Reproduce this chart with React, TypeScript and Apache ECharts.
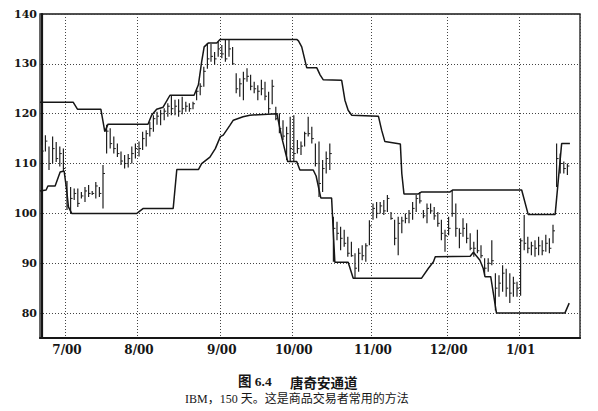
import React, { useEffect, useRef } from "react";
import * as echarts from "echarts";

// Trading days (2000-06-22 .. 2001-01-25)
const june = [22, 23, 26, 27, 28, 29, 30];
const july = [3, 5, 6, 7, 10, 11, 12, 13, 14, 17, 18, 19, 20, 21, 24, 25, 26, 27, 28, 31];
const aug = [1, 2, 3, 4, 7, 8, 9, 10, 11, 14, 15, 16, 17, 18, 21, 22, 23, 24, 25, 28, 29, 30, 31];
const sep = [1, 5, 6, 7, 8, 11, 12, 13, 14, 15, 18, 19, 20, 21, 22, 25, 26, 27, 28, 29];
const oct = [2, 3, 4, 5, 6, 9, 10, 11, 12, 13, 16, 17, 18, 19, 20, 23, 24, 25, 26, 27, 30, 31];
const nov = [1, 2, 3, 6, 7, 8, 9, 10, 13, 14, 15, 16, 17, 20, 21, 22, 24, 27, 28, 29, 30];
const dec = [1, 4, 5, 6, 7, 8, 11, 12, 13, 14, 15, 18, 19, 20, 21, 22, 26, 27, 28, 29];
const jan = [2, 3, 4, 5, 8, 9, 10, 11, 12, 16, 17, 18, 19, 22, 23, 24, 25];

const monthTickLabels = ["7/00", "8/00", "9/00", "10/00", "11/00", "12/00", "1/01"];

const high = [
  113.7, 115.7, 113.4, 115.4, 114.3, 113.4, 113.0, 106.5, 105.3, 105.0,
  105.0, 104.3, 105.3, 105.7, 104.5, 106.3, 105.3, 109.7, 117.8, 117.1,
  115.4, 114.0, 112.4, 111.7, 111.9, 113.4, 114.0, 114.4, 116.4, 116.7,
  118.4, 119.7, 120.4, 120.8, 121.1, 122.1, 123.6, 122.8, 122.9, 123.4,
  122.4, 122.1, 122.4, 125.1, 126.1, 129.4, 134.2, 134.0, 132.4, 134.4,
  133.8, 134.8, 134.8, 133.4, 128.1, 127.1, 128.4, 129.1, 127.8, 126.4,
  125.7, 126.8, 126.4, 124.4, 126.8, 121.4, 120.1, 118.7, 117.4, 119.4,
  119.7, 114.7, 114.4, 116.4, 119.4, 117.4, 114.0, 114.4, 110.7, 112.4,
  114.0, 99.3, 98.3, 97.3, 96.7, 95.3, 94.3, 92.0, 93.0, 93.6,
  94.0, 98.6, 102.0, 102.3, 102.3, 102.7, 103.7, 100.3, 98.7, 99.3,
  99.3, 100.0, 100.7, 102.3, 103.7, 104.3, 100.7, 102.0, 102.0, 101.3,
  100.3, 98.7, 96.7, 99.3, 104.7, 102.0, 97.0, 99.0, 98.0, 96.0,
  94.3, 96.7, 93.6, 91.0, 91.0, 94.6, 88.0, 87.6, 89.6, 88.9,
  88.0, 87.3, 86.3, 95.0, 99.7, 95.3, 94.3, 94.6, 95.3, 94.6,
  95.7, 95.0, 97.7, 114.0, 112.0, 110.4, 110.0,
];

const low = [
  110.7, 112.4, 108.7, 110.0, 110.3, 109.4, 108.5, 100.7, 100.0, 102.7,
  101.3, 103.0, 102.3, 103.3, 103.7, 103.0, 103.3, 101.0, 112.0, 113.0,
  112.0, 111.3, 109.7, 109.0, 109.2, 110.0, 111.0, 111.4, 112.7, 113.4,
  115.4, 116.4, 117.8, 117.7, 118.7, 119.4, 119.7, 119.7, 119.4, 119.9,
  120.4, 120.4, 120.9, 122.7, 123.7, 125.4, 129.0, 130.4, 129.8, 131.4,
  131.1, 130.4, 131.4, 129.8, 124.1, 123.4, 122.7, 126.4, 124.7, 124.1,
  122.7, 123.7, 122.7, 120.1, 121.9, 118.7, 116.1, 114.7, 110.7, 110.4,
  110.4, 112.0, 111.7, 113.4, 115.4, 114.0, 109.4, 103.3, 104.3, 108.0,
  108.7, 90.3, 94.6, 92.6, 93.3, 91.3, 91.3, 87.0, 88.3, 90.6,
  90.3, 93.6, 98.7, 99.0, 100.0, 99.7, 100.3, 98.7, 93.6, 91.6,
  96.0, 98.0, 98.0, 98.7, 100.3, 102.0, 99.0, 98.0, 100.0, 98.7,
  97.3, 94.6, 92.3, 95.6, 99.3, 95.3, 93.0, 95.3, 94.0, 92.6,
  91.3, 92.0, 91.0, 87.6, 88.3, 89.6, 80.5, 83.3, 84.3, 83.3,
  82.0, 83.3, 83.3, 83.5, 92.6, 92.0, 91.6, 91.3, 91.6, 91.6,
  92.3, 92.0, 94.0, 105.3, 108.0, 108.0, 107.7,
];

const close = [
  112.5, 114.5, 110.0, 113.0, 111.0, 112.0, 109.0, 101.5, 103.0, 104.0,
  102.0, 103.5, 104.5, 104.0, 104.0, 105.5, 104.0, 108.0, 116.5, 114.0,
  113.0, 112.0, 110.5, 110.0, 111.0, 112.0, 113.0, 113.0, 115.0, 116.0,
  117.0, 119.0, 119.5, 120.0, 120.5, 121.5, 121.0, 121.5, 120.5, 121.0,
  121.5, 121.0, 122.0, 124.5, 125.5, 128.5, 131.0, 131.5, 131.0, 133.0,
  132.0, 131.0, 133.0, 130.0, 125.0, 126.0, 127.0, 127.5, 125.5, 125.0,
  124.5, 125.0, 123.5, 121.0, 125.5, 119.0, 117.0, 115.5, 116.0, 113.0,
  112.0, 113.0, 113.5, 116.0, 116.0, 115.0, 110.0, 106.0, 109.0, 111.0,
  112.0, 97.0, 96.0, 95.0, 94.0, 92.0, 91.5, 89.0, 92.0, 91.5,
  93.5, 97.5, 101.0, 100.0, 101.5, 100.5, 103.0, 99.0, 95.0, 98.0,
  98.5, 99.0, 100.0, 101.0, 103.0, 102.5, 99.5, 101.0, 100.5, 99.5,
  98.0, 96.0, 95.5, 97.0, 100.0, 97.0, 96.0, 97.0, 95.0, 93.0,
  93.0, 92.5, 91.5, 89.0, 90.0, 90.5, 85.0, 86.0, 88.0, 85.0,
  84.0, 86.0, 85.0, 94.5, 94.0, 93.0, 93.5, 93.0, 93.5, 92.5,
  94.0, 93.0, 96.5, 111.0, 110.0, 109.0, 109.5,
];

// Donchian channel lines: day position and price
const upperDay = [
  -0.5, 8.7, 9.9, 16.4, 17.5, 18.4, 29.5, 30.5, 31.9, 33.7, 35.6, 42.3, 43.5, 44.4, 45.1,
  46.3, 48.6, 49.5, 70.8, 71.3, 72.2, 73.6, 76.4, 77.3, 78.2, 83.3, 84.2, 85.1, 86.1,
  93.5, 94.4, 95.3, 99.6, 100.0, 100.6, 104.6, 105.5, 113.4, 114.2, 133.3, 135.1,
  142.6, 144.4, 146.7,
];
const upperVal = [
  122.3, 122.3, 120.9, 120.9, 116.4, 117.9, 117.9, 119.7, 120.9, 121.3, 123.7, 123.7, 125.8, 130.4, 133.4,
  134.2, 134.2, 134.9, 134.9, 134.6, 133.4, 129.2, 129.2, 127.8, 126.8, 126.7, 122.7, 120.7, 119.7,
  119.5, 116.7, 114.4, 113.9, 108.0, 103.9, 103.9, 104.3, 104.3, 104.7, 104.7, 99.8,
  99.8, 114.0, 114.0,
];
const lowerDay = [
  -0.5, 1.2, 1.7, 3.7, 5.1, 6.2, 6.9, 7.4, 8.3, 26.4, 28.2, 36.5, 37.5, 43.5, 44.4,
  46.7, 48.2, 49.6, 50.4, 52.2, 53.2, 55.9, 57.8, 65.3, 66.6, 68.3, 70.8, 71.7, 75.4,
  76.2, 77.5, 80.5, 81.4, 85.1, 86.5, 105.5, 107.4, 108.8, 109.3, 119.0, 119.9, 121.7,
  122.6, 123.1, 124.7, 126.3, 145.3, 146.5,
];
const lowerVal = [
  104.5, 104.7, 105.5, 105.5, 108.3, 108.5, 104.7, 101.3, 100.0, 100.0, 101.0, 101.0, 108.8, 108.8, 110.0,
  111.3, 113.0, 115.4, 115.7, 117.6, 118.7, 119.4, 119.7, 120.0, 115.4, 110.4, 110.4, 108.7, 108.7,
  107.5, 103.1, 103.1, 90.2, 90.2, 87.0, 87.0, 89.0, 90.3, 91.3, 91.4, 92.2, 90.6,
  89.0, 87.3, 87.3, 80.0, 80.0, 82.0,
];

const monthGroups: [number, number, number[]][] = [
  [2000, 6, june], [2000, 7, july], [2000, 8, aug], [2000, 9, sep],
  [2000, 10, oct], [2000, 11, nov], [2000, 12, dec], [2001, 1, jan],
];

const categories: string[] = [];
const monthStart: Record<number, string> = {};
monthGroups.forEach(([y, m, days], gi) => {
  days.forEach((d, k) => {
    if (k === 0 && gi > 0) monthStart[categories.length] = monthTickLabels[gi - 1];
    categories.push(`${y}-${String(m).padStart(2, "0")}-${String(d).padStart(2, "0")}`);
  });
});

const serif = "'DejaVu Serif', 'Liberation Serif', serif";
const ink = "#161616";

export default function App() {
  const ref = useRef<HTMLDivElement>(null);
  useEffect(() => {
    if (!ref.current) return;
    const chart = echarts.init(ref.current, undefined, { renderer: "svg" });
    const n = categories.length;
    const bars = high.map((h, i) => [i, h, low[i], close[i]]);
    chart.setOption({
      animation: false,
      backgroundColor: "#ffffff",
      grid: {
        left: 40, right: 18, top: 14, bottom: 73,
        show: true, borderColor: ink, borderWidth: 1.3, containLabel: false,
      },
      xAxis: [
        {
          type: "category",
          data: categories,
          boundaryGap: true,
          axisLine: { show: true, lineStyle: { color: ink, width: 2.2 } },
          axisTick: { show: false },
          axisLabel: {
            interval: (idx: number) => monthStart[idx] !== undefined,
            formatter: (_v: string, idx: number) => monthStart[idx] || "",
            fontFamily: serif, fontSize: 12, fontWeight: "bold", color: ink, margin: 6,
          },
          splitLine: {
            show: true,
            interval: (idx: number) => monthStart[idx] !== undefined,
            lineStyle: { color: "#444", type: [1, 2], width: 1 },
          },
        },
        {
          type: "value",
          min: -0.5,
          max: n - 0.5,
          show: false,
          splitLine: { show: false },
        },
      ],
      yAxis: {
        type: "value",
        min: 75,
        max: 140,
        axisLine: { show: true, lineStyle: { color: ink, width: 2.2 } },
        axisTick: { show: false },
        axisLabel: {
          showMinLabel: false,
          formatter: (v: number) => (v % 10 === 0 ? String(v) : ""),
          fontFamily: serif, fontSize: 11, fontWeight: "bold", color: ink, margin: 3,
        },
        splitLine: { show: true, lineStyle: { color: "#444", type: [1, 2], width: 1 } },
      },
      series: [
        {
          type: "custom",
          xAxisIndex: 1,
          yAxisIndex: 0,
          data: bars,
          encode: { x: 0, y: [1, 2, 3] },
          renderItem: (_p: any, api: any) => {
            const i = api.value(0);
            const hi = api.coord([i, api.value(1)]);
            const lo = api.coord([i, api.value(2)]);
            const c = api.coord([i, api.value(3)]);
            return {
              type: "group",
              children: [
                {
                  type: "line",
                  shape: { x1: hi[0], y1: hi[1], x2: lo[0], y2: lo[1] },
                  style: { stroke: "#202020", lineWidth: 1.2 },
                },
                {
                  type: "line",
                  shape: { x1: c[0], y1: c[1], x2: c[0] + 2, y2: c[1] },
                  style: { stroke: "#202020", lineWidth: 1 },
                },
              ],
            };
          },
        },
        {
          type: "line",
          xAxisIndex: 1,
          yAxisIndex: 0,
          data: upperDay.map((d, k) => [d, upperVal[k]]),
          symbol: "none",
          lineStyle: { color: ink, width: 1.5 },
        },
        {
          type: "line",
          xAxisIndex: 1,
          yAxisIndex: 0,
          data: lowerDay.map((d, k) => [d, lowerVal[k]]),
          symbol: "none",
          lineStyle: { color: ink, width: 1.5 },
        },
      ],
      graphic: [
        {
          type: "text", left: 238, top: 375,
          style: { text: "图 6.4", font: `bold 13.5px 'Liberation Serif', 'Noto Sans CJK SC', serif`, fill: ink },
        },
        {
          type: "text", left: 290, top: 375,
          style: { text: "唐奇安通道", font: `bold 13.5px 'Noto Sans CJK SC', sans-serif`, fill: ink },
        },
        {
          type: "text", left: 185, top: 393,
          style: { text: "IBM，150 天。这是商品交易者常用的方法", font: `12px 'Liberation Serif', 'Noto Sans CJK SC', serif`, fill: ink },
        },
      ],
    });
    return () => chart.dispose();
  }, []);
  return <div ref={ref} style={{ position: "absolute", left: 0, top: 0, width: 598, height: 411 }} />;
}
